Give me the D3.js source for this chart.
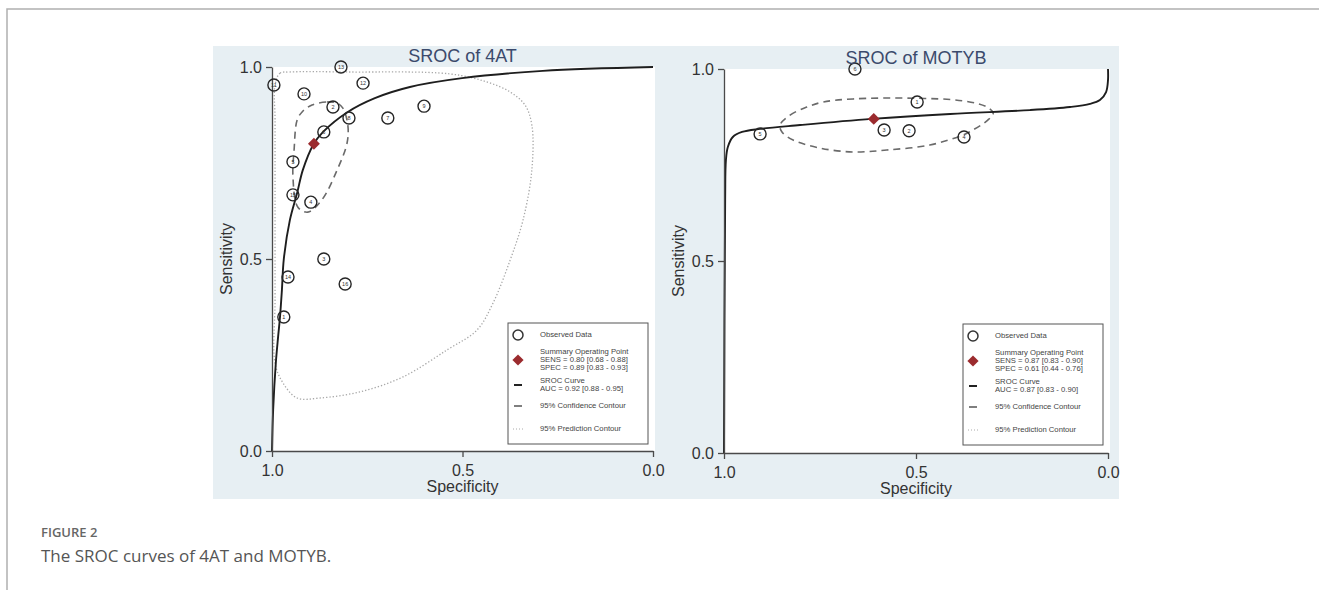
<!DOCTYPE html>
<html>
<head>
<meta charset="utf-8">
<script src="https://cdn.jsdelivr.net/npm/d3@7"></script>
<style>
  body { margin: 0; background: #fff; }
  svg { display: block; }
</style>
</head>
<body>
<svg id="fig"></svg>
<script>
// 1) Data ------------------------------------------------------------
// 4AT : observed studies (specificity, sensitivity)
const atStudy = ['1','2','3','4','5','6','7','8','9','10','11','12','13','14','15','16'];
const atSpec  = [0.969,0.840,0.864,0.898,0.945,0.864,0.696,0.798,0.601,0.916,0.995,0.761,0.819,0.958,0.945,0.808];
const atSens  = [0.349,0.896,0.500,0.648,0.753,0.831,0.867,0.867,0.898,0.930,0.953,0.958,1.000,0.453,0.667,0.435];
const atSummary = [0.89, 0.80];

// 4AT : SROC curve, confidence and prediction contours
const atCurveSpec = [1.000,0.997,0.990,0.984,0.979,0.974,0.969,0.953,0.934,0.919,0.892,0.866,0.801,0.730,0.638,0.501,0.289,0.000];
const atCurveSens = [0.000,0.107,0.229,0.297,0.349,0.419,0.500,0.602,0.672,0.732,0.797,0.831,0.883,0.919,0.948,0.971,0.990,1.000];
const atConfSpec = [0.895,0.856,0.829,0.814,0.801,0.803,0.829,0.869,0.906,0.932,0.945,0.942,0.934,0.921];
const atConfSens = [0.901,0.909,0.906,0.893,0.849,0.802,0.732,0.654,0.622,0.635,0.714,0.784,0.862,0.883];
const atPredSpec = [0.992,0.979,0.953,0.795,0.533,0.436,0.375,0.336,0.318,0.318,0.341,0.375,0.420,0.462,0.541,0.656,0.769,0.874,0.934,0.971,0.992,0.992,0.992,0.992];
const atPredSens = [0.953,0.984,0.987,0.987,0.982,0.961,0.935,0.901,0.849,0.732,0.602,0.497,0.385,0.315,0.263,0.193,0.154,0.138,0.138,0.177,0.229,0.393,0.654,0.862];

// MOTYB : observed studies
const moStudy = ['1','2','3','4','5','6'];
const moSpec  = [0.497,0.518,0.583,0.375,0.906,0.659];
const moSens  = [0.914,0.839,0.841,0.823,0.831,1.000];
const moSummary = [0.61, 0.87];

// MOTYB : SROC curve and confidence contour
const moCurveSpec = [1.000,0.997,0.995,0.990,0.977,0.953,0.906,0.802,0.615,0.411,0.203,0.099,0.047,0.021,0.005,0.000,0.000];
const moCurveSens = [0.000,0.659,0.763,0.797,0.823,0.836,0.844,0.854,0.870,0.883,0.893,0.901,0.909,0.919,0.940,0.971,1.000];
const moConfSpec = [0.854,0.828,0.784,0.742,0.664,0.508,0.378,0.315,0.299,0.313,0.352,0.378,0.464,0.576,0.664,0.750,0.820,0.849];
const moConfSens = [0.854,0.880,0.901,0.914,0.922,0.924,0.917,0.901,0.885,0.867,0.841,0.828,0.802,0.789,0.784,0.794,0.815,0.836];

// Axis ticks and legend texts
const tickValues = [1, 0.5, 0];
const atLegend = ['SENS = 0.80 [0.68 - 0.88]', 'SPEC = 0.89 [0.83 - 0.93]', 'AUC = 0.92 [0.88 - 0.95]'];
const moLegend = ['SENS = 0.87 [0.83 - 0.90]', 'SPEC = 0.61 [0.44 - 0.76]', 'AUC = 0.87 [0.83 - 0.90]'];

// 2) Page frame -----------------------------------------------------
const svg = d3.select('#fig')
  .attr('width', 1319)
  .attr('height', 590);

svg.append('path')
  .attr('d', 'M7,590V9H1319')
  .attr('fill', 'none')
  .attr('stroke', '#b0b0b0')
  .attr('stroke-width', 1.5);

svg.append('rect')
  .attr('x', 213).attr('y', 46)
  .attr('width', 906).attr('height', 453)
  .attr('fill', '#e7eff3');

const axisFont = 'Liberation Sans, Arial, sans-serif';

// 3) One SROC panel -------------------------------------------------
function renderPanel(p) {
  const x = d3.scaleLinear().domain([1, 0]).range([p.x0, p.x1]);
  const y = d3.scaleLinear().domain([0, 1]).range([p.y1, p.y0]);
  const g = svg.append('g');

  g.append('rect')
    .attr('x', p.x0).attr('y', p.y0)
    .attr('width', p.x1 - p.x0 + 2).attr('height', p.y1 - p.y0)
    .attr('fill', '#fff');

  const line = d3.line()
    .x(d => x(d[0]))
    .y(d => y(d[1]));

  // prediction contour (dotted)
  if (p.predSpec) {
    g.append('path')
      .attr('d', line.curve(d3.curveCatmullRomClosed.alpha(0.5))(d3.zip(p.predSpec, p.predSens)))
      .attr('fill', 'none')
      .attr('stroke', '#a8a8a8')
      .attr('stroke-width', 1.3)
      .attr('stroke-dasharray', '1.3,2');
  }

  // confidence contour (dashed)
  g.append('path')
    .attr('d', line.curve(d3.curveCatmullRomClosed.alpha(0.5))(d3.zip(p.confSpec, p.confSens)))
    .attr('fill', 'none')
    .attr('stroke', '#6a6a6a')
    .attr('stroke-width', 1.6)
    .attr('stroke-dasharray', '7,5');

  // SROC curve
  g.append('path')
    .attr('d', line.curve(d3.curveCatmullRom.alpha(0.5))(d3.zip(p.curveSpec, p.curveSens)))
    .attr('fill', 'none')
    .attr('stroke', '#1e1e1e')
    .attr('stroke-width', 1.9);

  // axes
  const xAxis = g.append('g')
    .attr('transform', `translate(0,${p.y1})`)
    .call(d3.axisBottom(x).tickValues(tickValues).tickFormat(d3.format('.1f'))
      .tickSize(6).tickSizeOuter(0).tickPadding(8));
  const yAxis = g.append('g')
    .attr('transform', `translate(${p.x0},0)`)
    .call(d3.axisLeft(y).tickValues(tickValues).tickFormat(d3.format('.1f'))
      .tickSize(6).tickSizeOuter(0).tickPadding(4));
  [xAxis, yAxis].forEach(a => {
    a.selectAll('path, line').attr('stroke', '#4a4a4a').attr('stroke-width', 1.3);
    a.selectAll('text')
      .attr('fill', '#333')
      .style('font-family', axisFont)
      .style('font-size', '16px');
  });

  g.append('text')
    .attr('x', (p.x0 + p.x1) / 2).attr('y', p.y1 + 41)
    .attr('text-anchor', 'middle')
    .attr('fill', '#333')
    .style('font-family', axisFont).style('font-size', '16px')
    .text('Specificity');

  g.append('text')
    .attr('transform', `translate(${p.x0 - 44},${(p.y0 + p.y1) / 2}) rotate(-90)`)
    .attr('text-anchor', 'middle')
    .attr('dominant-baseline', 'middle')
    .attr('fill', '#333')
    .style('font-family', axisFont).style('font-size', '16px')
    .text('Sensitivity');

  // observed studies
  const pts = g.selectAll('.study')
    .data(d3.zip(p.spec, p.sens, p.study))
    .enter().append('g')
    .attr('class', 'study')
    .attr('transform', d => `translate(${x(d[0])},${y(d[1])})`);
  pts.append('circle')
    .attr('r', 6)
    .attr('fill', 'none')
    .attr('stroke', '#262626')
    .attr('stroke-width', 1.4);
  pts.append('text')
    .attr('text-anchor', 'middle')
    .attr('dy', '0.35em')
    .attr('fill', '#333')
    .style('font-family', axisFont).style('font-size', '5.5px')
    .text(d => d[2]);

  // summary operating point
  g.append('path')
    .attr('d', d3.symbol(d3.symbolDiamond2, 90)())
    .attr('transform', `translate(${x(p.summary[0])},${y(p.summary[1])})`)
    .attr('fill', '#9b2b2e');

  // title
  g.append('text')
    .attr('x', (p.x0 + p.x1) / 2).attr('y', p.y0 - 5)
    .attr('text-anchor', 'middle')
    .attr('fill', '#3b4a6c')
    .style('font-family', axisFont).style('font-size', '18px')
    .text(p.title);

  renderLegend(g, p.legendX, p.legendY, p.legend);
}

// 4) Legend -----------------------------------------------------------
function renderLegend(g, bx, by, texts) {
  const lg = g.append('g').attr('transform', `translate(${bx},${by})`);
  lg.append('rect')
    .attr('width', 140).attr('height', 121)
    .attr('fill', '#fff')
    .attr('stroke', '#555')
    .attr('stroke-width', 1);

  const items = [
    { y: 12, lines: ['Observed Data'] },
    { y: 29, lines: ['Summary Operating Point', texts[0], texts[1]] },
    { y: 58, lines: ['SROC Curve', texts[2]] },
    { y: 83, lines: ['95% Confidence Contour'] },
    { y: 106, lines: ['95% Prediction Contour'] }
  ];
  // slightly stretched legend lettering
  const sx = 1.1;
  const tg = lg.append('g').attr('transform', `scale(${sx},1)`);
  items.forEach(it => {
    it.lines.forEach((t, i) => {
      tg.append('text')
        .attr('x', 32 / sx).attr('y', it.y + i * 8)
        .attr('dominant-baseline', 'middle')
        .attr('fill', '#444')
        .style('font-family', axisFont).style('font-size', '7px')
        .text(t);
    });
  });

  lg.append('circle').attr('cx', 10).attr('cy', 12).attr('r', 5)
    .attr('fill', 'none').attr('stroke', '#333').attr('stroke-width', 1.5);
  lg.append('path')
    .attr('d', d3.symbol(d3.symbolDiamond2, 80)())
    .attr('transform', 'translate(10,37)')
    .attr('fill', '#9b2b2e');
  lg.append('line').attr('x1', 6).attr('x2', 14).attr('y1', 62).attr('y2', 62)
    .attr('stroke', '#222').attr('stroke-width', 2);
  lg.append('line').attr('x1', 6).attr('x2', 14).attr('y1', 83).attr('y2', 83)
    .attr('stroke', '#555').attr('stroke-width', 1.5);
  lg.append('line').attr('x1', 5).attr('x2', 15).attr('y1', 106).attr('y2', 106)
    .attr('stroke', '#aaa').attr('stroke-width', 1).attr('stroke-dasharray', '1,2');
}

// 5) Render -----------------------------------------------------------
renderPanel({
  title: 'SROC of 4AT',
  x0: 272, x1: 653, y0: 67, y1: 451,
  study: atStudy, spec: atSpec, sens: atSens, summary: atSummary,
  curveSpec: atCurveSpec, curveSens: atCurveSens,
  confSpec: atConfSpec, confSens: atConfSens,
  predSpec: atPredSpec, predSens: atPredSens,
  legend: atLegend, legendX: 508, legendY: 323
});

renderPanel({
  title: 'SROC of MOTYB',
  x0: 724, x1: 1108, y0: 69, y1: 453,
  study: moStudy, spec: moSpec, sens: moSens, summary: moSummary,
  curveSpec: moCurveSpec, curveSens: moCurveSens,
  confSpec: moConfSpec, confSens: moConfSens,
  legend: moLegend, legendX: 963, legendY: 324
});

// 6) Caption ----------------------------------------------------------
svg.append('text')
  .attr('x', 41).attr('y', 537)
  .attr('fill', '#666')
  .style('font-family', 'Open Sans, sans-serif')
  .style('font-size', '13px')
  .style('font-weight', 600)
  .text('FIGURE 2');

svg.append('text')
  .attr('x', 41).attr('y', 562)
  .attr('fill', '#555')
  .style('font-family', 'Open Sans, sans-serif')
  .style('font-size', '17px')
  .text('The SROC curves of 4AT and MOTYB.');
</script>
</body>
</html>
